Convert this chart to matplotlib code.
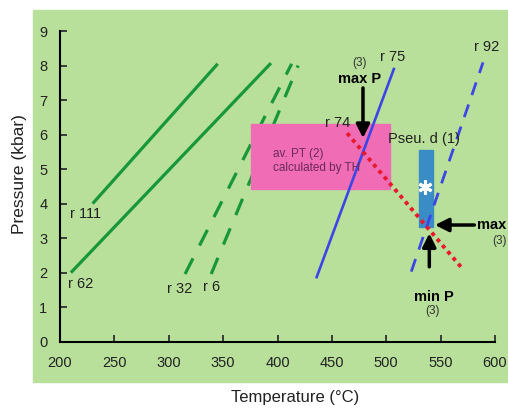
import matplotlib.pyplot as plt
from matplotlib.patches import Rectangle

plt.rcParams['font.family'] = ['Liberation Sans', 'DejaVu Sans']

# reaction lines: (T1, P1) -> (T2, P2)
r111 = ([230, 345], [4.0, 8.05])
r62 = ([210, 394], [2.0, 8.07])
r32 = ([315, 413], [1.96, 8.05])
r6 = ([339, 419], [1.96, 8.0])
r75 = ([436, 507], [1.87, 7.9])
r92 = ([523, 589], [2.03, 8.09])
r74 = ([464, 571], [6.04, 2.08])

# boxes: T range, P range
avpt_T = [376, 503]
avpt_P = [4.42, 6.31]
pseu_T = [530, 543]
pseu_P = [3.32, 5.56]
star = (535.6, 4.49)

# arrows: tail -> tip
maxP_arrow = ((478.6, 7.35), (478.6, 5.9))
max_arrow = ((581, 3.38), (544.8, 3.38))
minP_arrow = ((539.6, 2.17), (539.6, 3.14))

xticks = [200, 250, 300, 350, 400, 450, 500, 550, 600]
yticks = list(range(10))

bg = '#b8e09a'
dgreen = '#18973a'
blue = '#3c46e6'

fig = plt.figure(figsize=(5.08, 4.09), dpi=100)
fig.patches.append(Rectangle((33 / 508, 27 / 409), 1 - 33 / 508, 372 / 409,
                             transform=fig.transFigure, color=bg, zorder=-5))
ax = fig.add_axes([60 / 508, 67.3 / 409, 435 / 508, 310.7 / 409])
ax.set_zorder(2)
ax.set_facecolor('none')

ax.plot(*r111, color=dgreen, lw=2.3, solid_capstyle='butt')
ax.plot(*r62, color=dgreen, lw=2.3, solid_capstyle='butt')
ax.plot(*r32, color=dgreen, lw=2.3, ls=(0, (5.5, 4.5)))
ax.plot(*r6, color=dgreen, lw=2.3, ls=(0, (5.5, 4.5)))

ax.add_patch(Rectangle((avpt_T[0], avpt_P[0]), avpt_T[1] - avpt_T[0],
                       avpt_P[1] - avpt_P[0], color='#f06cb4', zorder=2))
ax.add_patch(Rectangle((pseu_T[0], pseu_P[0]), pseu_T[1] - pseu_T[0],
                       pseu_P[1] - pseu_P[0], color='#3a8cc6', zorder=2))
ax.plot(*star, marker=(6, 2, 0), color='white', ms=10, mew=2.2, zorder=4)

ax.plot(*r75, color=blue, lw=1.9, zorder=3)
ax.plot(*r92, color=blue, lw=2.0, ls=(0, (4.8, 3.6)), zorder=3)
ax.plot(*r74, color='#e8192c', lw=2.8, ls=(0, (1, 1.1)), zorder=3)

for tail, tip in [maxP_arrow, max_arrow, minP_arrow]:
    ax.annotate('', xy=tip, xytext=tail,
                arrowprops=dict(arrowstyle='-|>', color='black', lw=2.5,
                                mutation_scale=20, shrinkA=0, shrinkB=0),
                zorder=5)

lab = dict(fontsize=10.5, color='#222222', va='center')
ax.text(209, 3.70, 'r 111', ha='left', **lab)
ax.text(207, 1.67, 'r 62', ha='left', **lab)
ax.text(310, 1.52, 'r 32', ha='center', **lab)
ax.text(339, 1.59, 'r 6', ha='center', **lab)
ax.text(455.6, 6.33, 'r 74', ha='center', **lab)
ax.text(505.7, 8.26, 'r 75', ha='center', **lab)
ax.text(592.6, 8.53, 'r 92', ha='center', **lab)
ax.text(534.3, 5.87, 'Pseu. d (1)', ha='center', **lab)

ax.text(395.6, 5.44, 'av. PT (2)', fontsize=8.5, color='#6a2a5a', va='center')
ax.text(395.6, 5.03, 'calculated by TH', fontsize=8.5, color='#6a2a5a', va='center')

ax.text(475.4, 7.61, 'max P', fontsize=10.5, fontweight='bold', ha='center', va='center')
ax.text(475.2, 8.07, '(3)', fontsize=8.5, ha='center', va='center', color='#333333')
ax.text(583.7, 3.38, 'max', fontsize=10.5, fontweight='bold', ha='left', va='center',
        clip_on=False)
ax.text(603.7, 2.93, '(3)', fontsize=8.5, ha='center', va='center', color='#333333',
        clip_on=False)
ax.text(543.9, 1.29, 'min P', fontsize=10.5, fontweight='bold', ha='center', va='center')
ax.text(542.3, 0.90, '(3)', fontsize=8.5, ha='center', va='center', color='#333333')

ax.set_xlim(200, 600)
ax.set_ylim(0, 9)
ax.set_xticks(xticks)
ax.set_yticks(yticks)
ax.tick_params(direction='in', length=5, width=1.2, labelsize=10.5, colors='#222222')
ax.tick_params(axis='x', pad=10)
ax.tick_params(axis='y', pad=9)
for s in ['top', 'right']:
    ax.spines[s].set_visible(False)
for s in ['left', 'bottom']:
    ax.spines[s].set_linewidth(1.5)

ax.set_xlabel('Temperature (°C)', fontsize=12, color='#222222')
ax.xaxis.set_label_coords(0.54, -0.181)
ax.xaxis.label.set_va('center')
ax.set_ylabel('Pressure (kbar)', fontsize=12.5, color='#222222')
ax.yaxis.set_label_coords(-0.092, 0.541)
ax.yaxis.label.set_va('center')

fig.savefig('out.png', dpi=100)
